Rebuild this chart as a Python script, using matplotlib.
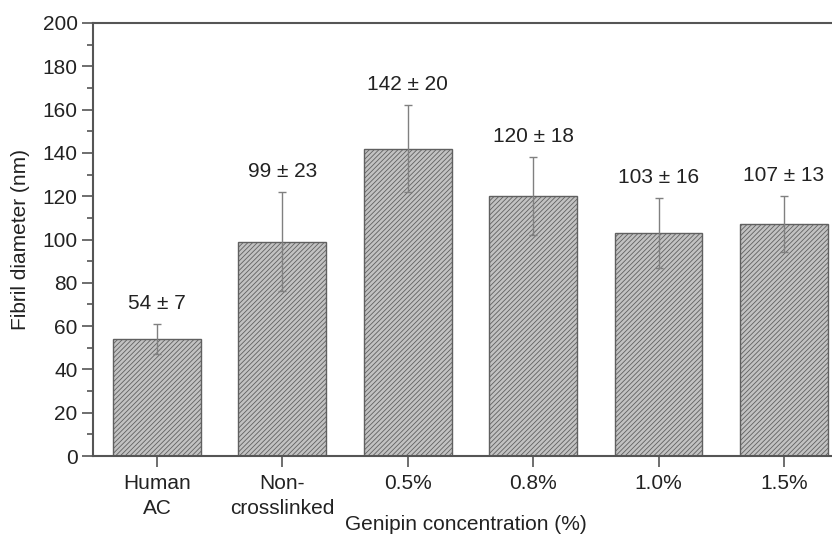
import matplotlib
matplotlib.use("Agg")
import matplotlib.pyplot as plt
from matplotlib.ticker import MultipleLocator

categories = ["Human\nAC", "Non-\ncrosslinked", "0.5%", "0.8%", "1.0%", "1.5%"]
means = [54, 99, 142, 120, 103, 107]
sds = [7, 23, 20, 18, 16, 13]
labels = ["54 \u00b1 7", "99 \u00b1 23", "142 \u00b1 20", "120 \u00b1 18", "103 \u00b1 16", "107 \u00b1 13"]

plt.rcParams['font.family'] = ['Liberation Sans', 'DejaVu Sans']
plt.rcParams['hatch.linewidth'] = 0.6

FS = 15
fig = plt.figure(figsize=(8.32, 5.36), dpi=100)
ax = fig.add_axes([93/832, 1 - 456/536, (832 - 93)/832 + 0.01, (456 - 23)/536])

x = list(range(len(categories)))
ax.bar(x, means, width=0.7, color='#c2c2c2', edgecolor='#606060', linewidth=1.0, hatch='///////', zorder=2)
ax.errorbar(x, means, yerr=sds, fmt='none', ecolor='#808080', elinewidth=1.0, capsize=3, capthick=1.0, zorder=3)
for xi, m, s, lab in zip(x, means, sds, labels):
    ax.annotate(lab, (xi, m + s), xytext=(0, 8), textcoords='offset points',
                ha='center', va='bottom', fontsize=FS, color='#222222')

ax.set_xlim(-0.51, 5.45)
ax.set_ylim(0, 200)
ax.set_xticks(x)
ax.set_xticklabels(categories, fontsize=FS, color='#222222', linespacing=1.4)
ax.yaxis.set_major_locator(MultipleLocator(20))
ax.yaxis.set_minor_locator(MultipleLocator(10))
ax.tick_params(axis='y', which='major', length=8, width=1.2, color='#555555', labelsize=FS, labelcolor='#222222', direction='out', pad=3)
ax.tick_params(axis='y', which='minor', length=4, width=1.2, color='#555555', direction='out')
ax.tick_params(axis='x', which='major', length=8, width=1.2, color='#555555', direction='out', pad=5)
ax.spines['right'].set_visible(False)
for sp in ['left', 'top', 'bottom']:
    ax.spines[sp].set_color('#555555')
    ax.spines[sp].set_linewidth(1.5)
ax.set_ylabel("Fibril diameter (nm)", fontsize=FS, color='#222222', labelpad=9)
fig.text(466/832, 1 - 524/536, "Genipin concentration (%)", ha='center', va='center', fontsize=FS, color='#222222')

fig.savefig("out.png", dpi=100)
